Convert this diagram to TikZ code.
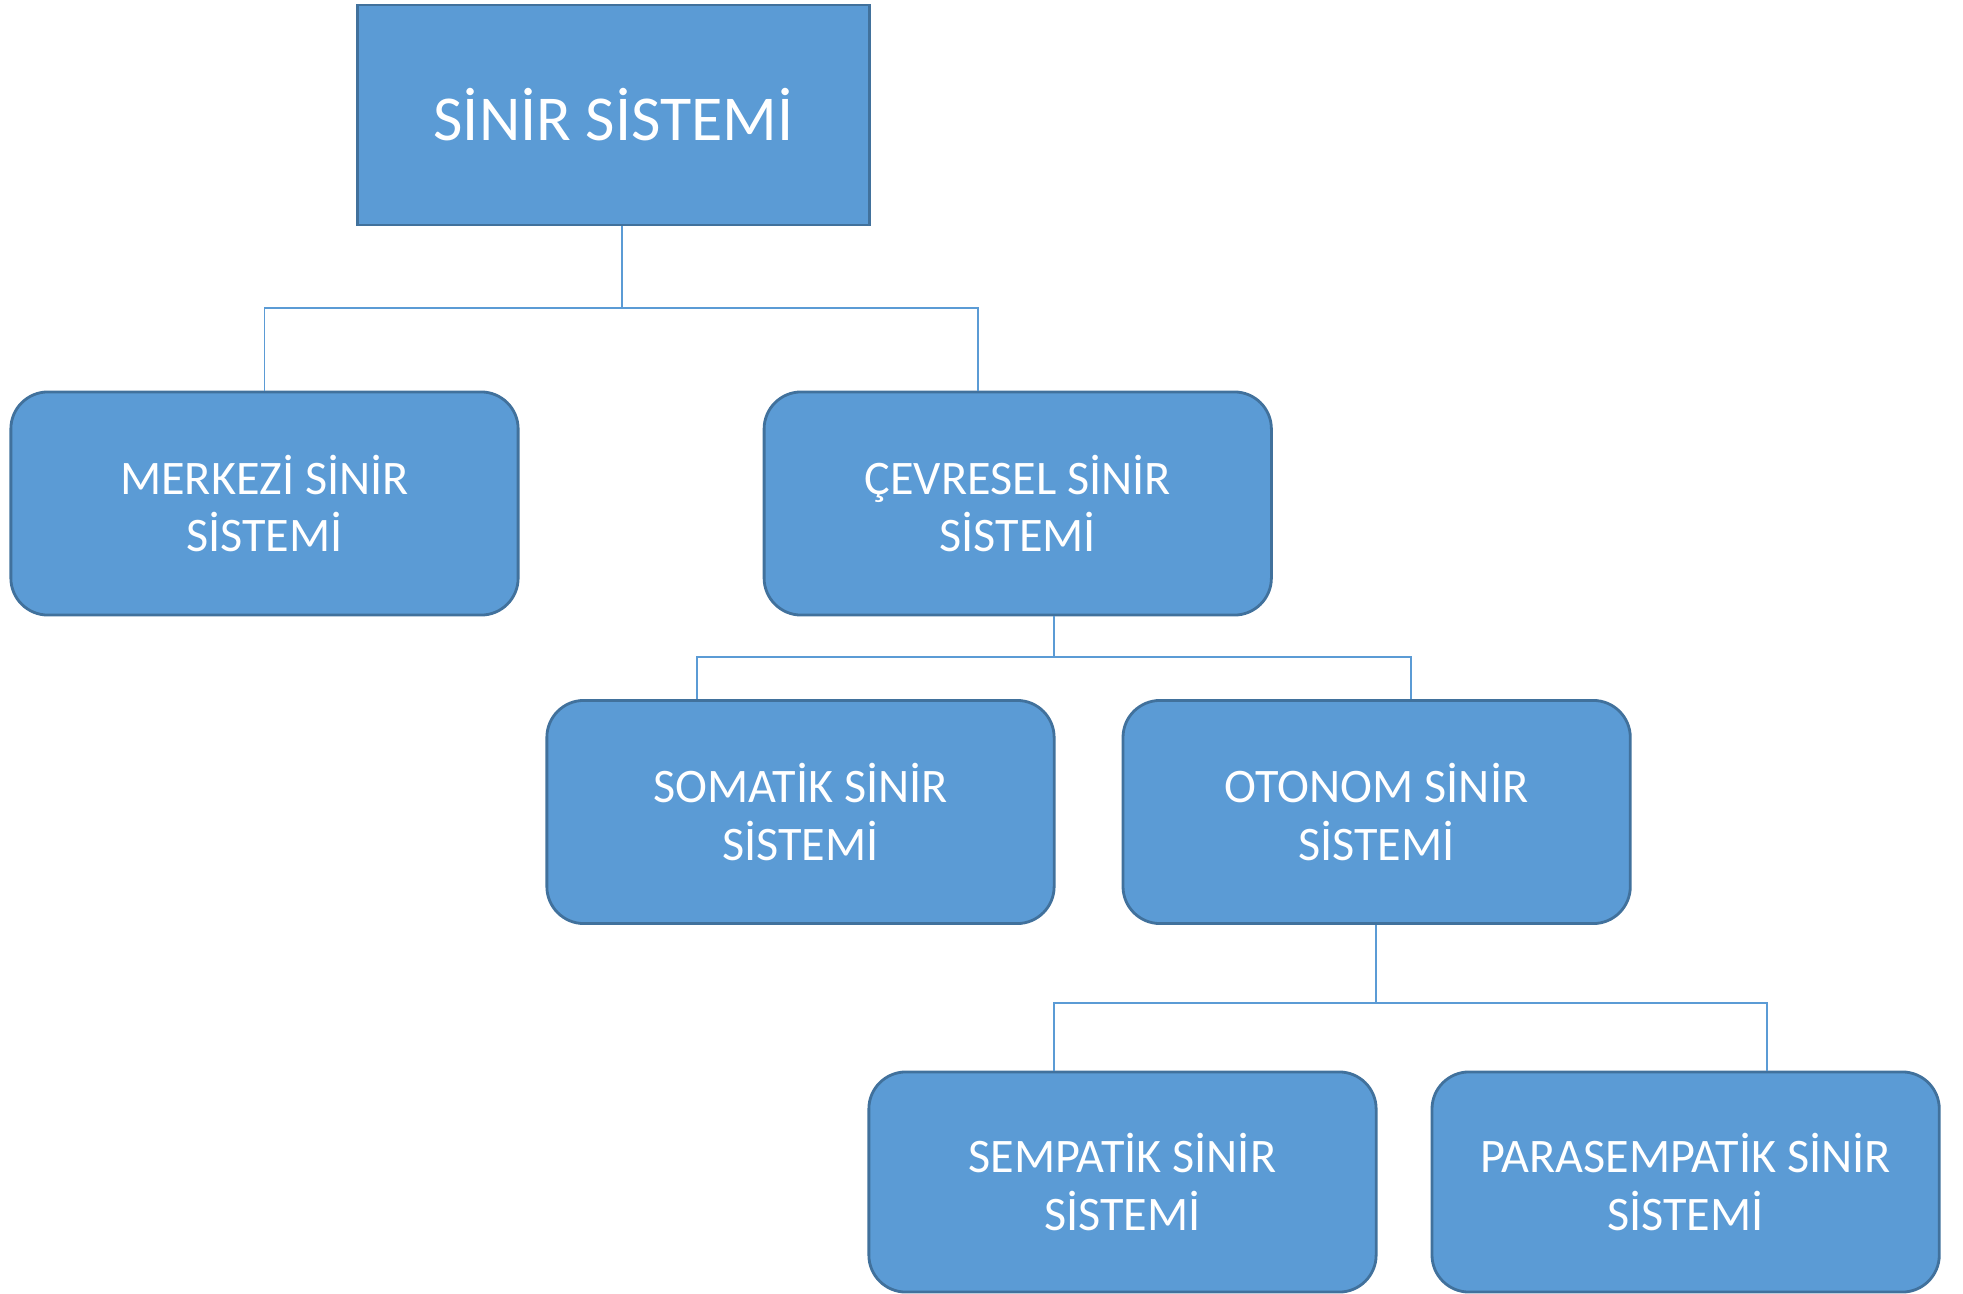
\documentclass[tikz,border=0pt]{standalone}
\usepackage{fontspec}
\setmainfont{Carlito}
\usetikzlibrary{positioning}

\definecolor{boxfill}{HTML}{5B9BD5}
\definecolor{boxline}{HTML}{41719C}
\definecolor{connline}{HTML}{5B9BD5}

\begin{document}
\begin{tikzpicture}[x=0.01cm,y=-0.01cm,
	main node/.style={draw=boxline,fill=boxfill,line width=0.8pt,text=white,
		align=center,inner sep=0pt,minimum width=5.07cm,minimum height=2.23cm,
		font=\fontsize{13.7}{16.3}\selectfont},
	round node/.style={main node,rounded corners=0.37cm},
	conn/.style={draw=connline,line width=0.5pt}]

	\useasboundingbox (0,0) rectangle (1963,1294);

	\node[main node,minimum width=5.11cm,minimum height=2.2cm,
		font=\fontsize{18.2}{22}\selectfont] (sinir) at (613.5,115) {SİNİR SİSTEMİ};

	\node[round node] (merkezi) at (264.5,503.5) {MERKEZİ SİNİR\\SİSTEMİ};
	\node[round node] (cevresel) [right=2.43cm of merkezi] {ÇEVRESEL SİNİR\\SİSTEMİ};

	\node[round node] (somatik) at (800.5,812) {SOMATİK SİNİR\\SİSTEMİ};
	\node[round node] (otonom) [right=0.66cm of somatik] {OTONOM SİNİR\\SİSTEMİ};

	\node[round node,minimum height=2.2cm] (sempatik) at (1122.5,1182) {SEMPATİK SİNİR\\SİSTEMİ};
	\node[round node,minimum height=2.2cm] (parasempatik) [right=0.53cm of sempatik] {PARASEMPATİK SİNİR\\SİSTEMİ};

	% junctions
	\coordinate (j1) at (622,308);
	\coordinate (j2) at (1054,657);
	\coordinate (j3) at (1376,1003);

	\draw[conn] (j1 |- sinir.south) -- (j1);
	\draw[conn] (merkezi.north) |- (j1) -| ([xshift=-0.395cm]cevresel.north);

	\draw[conn] (j2 |- cevresel.south) -- (j2);
	\draw[conn] ([xshift=-1.035cm]somatik.north) |- (j2) -| ([xshift=0.34cm]otonom.north);

	\draw[conn] (j3 |- otonom.south) -- (j3);
	\draw[conn] ([xshift=-0.685cm]sempatik.north) |- (j3) -| ([xshift=0.81cm]parasempatik.north);
\end{tikzpicture}
\end{document}
